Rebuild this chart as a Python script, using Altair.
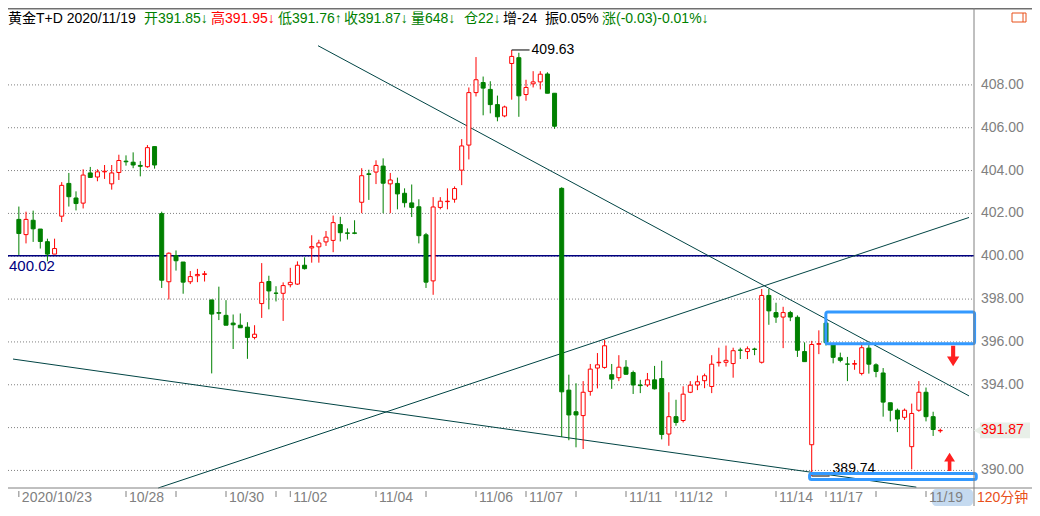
import altair as alt
import pandas as pd

# ---------------- data ----------------
opens = [
    401.72, 401.01, 401.68, 401.27, 400.68, 400.10, 401.87, 403.40, 402.72, 402.48,
    403.89, 403.70, 403.94, 403.38, 403.91, 404.44, 404.39, 404.24, 404.18, 405.12,
    401.99, 398.81, 400.03, 399.73, 398.81, 399.09, 399.15, 397.96, 397.37, 397.24,
    396.88, 396.78, 396.69, 396.21, 397.79, 398.82, 398.28, 398.27, 398.67, 398.70,
    399.58, 400.39, 400.44, 400.67, 400.74, 401.48, 401.09, 401.09, 402.52, 403.85,
    403.93, 404.21, 403.38, 403.40, 402.94, 402.49, 402.31, 401.00, 398.85, 402.28,
    402.55, 402.66, 404.02, 405.19, 407.64, 408.11, 407.79, 407.08, 406.55, 409.00,
    409.27, 407.55, 408.05, 408.14, 408.51, 407.61, 403.17, 393.75, 392.74, 392.56,
    393.69, 394.78, 394.81, 394.47, 394.33, 394.82, 394.57, 393.99, 393.99, 394.23,
    394.29, 391.70, 392.51, 392.33, 393.65, 393.99, 394.19, 393.92, 395.03, 395.05,
    394.99, 395.62, 395.55, 395.67, 395.05, 398.17, 397.37, 397.16, 397.37, 397.15,
    395.55, 391.20, 395.89, 396.88, 395.88, 395.26, 394.97, 394.96, 394.53, 395.71,
    394.93, 394.55, 393.16, 392.81, 392.48, 391.11, 392.81, 393.65, 392.51, 391.85]
highs = [
    402.32, 402.08, 402.13, 401.27, 400.82, 400.82, 403.46, 403.89, 403.03, 404.06,
    404.17, 404.06, 404.26, 404.26, 404.74, 404.71, 404.85, 404.44, 405.19, 405.12,
    402.08, 400.18, 400.27, 399.73, 399.31, 399.41, 399.31, 397.96, 398.58, 397.95,
    397.28, 397.33, 396.92, 396.78, 399.68, 399.09, 398.60, 398.78, 399.46, 399.76,
    399.95, 400.98, 400.77, 401.18, 401.90, 401.84, 401.30, 401.68, 404.11, 404.04,
    404.48, 404.57, 403.89, 403.67, 403.17, 403.35, 402.66, 401.09, 402.76, 402.76,
    403.17, 403.26, 405.47, 407.88, 409.30, 408.39, 408.17, 407.50, 407.03, 409.63,
    409.50, 408.24, 408.64, 408.64, 408.59, 407.61, 403.22, 394.47, 394.07, 394.17,
    394.97, 395.48, 396.09, 394.97, 395.38, 395.15, 394.66, 394.23, 394.55, 394.88,
    395.12, 393.65, 393.30, 393.93, 394.17, 394.43, 394.52, 395.38, 395.73, 395.83,
    395.73, 395.73, 395.79, 395.73, 398.47, 398.47, 397.83, 397.64, 397.45, 397.24,
    395.98, 396.05, 396.54, 397.06, 395.88, 395.50, 395.30, 395.15, 395.98, 395.91,
    395.00, 394.78, 393.16, 392.89, 392.89, 393.12, 394.17, 393.87, 392.74, 391.95]
lows = [
    400.06, 400.60, 400.67, 400.36, 399.76, 400.10, 401.60, 402.32, 402.14, 402.23,
    403.68, 403.50, 403.61, 403.11, 403.56, 404.23, 404.11, 403.73, 404.13, 404.09,
    398.52, 397.98, 399.33, 398.25, 398.70, 398.79, 398.82, 394.53, 397.02, 396.78,
    395.67, 396.66, 395.21, 396.12, 397.12, 397.52, 397.89, 396.98, 398.55, 398.66,
    399.38, 399.70, 399.70, 400.48, 400.19, 400.69, 400.78, 401.03, 402.01, 402.63,
    403.37, 402.01, 402.01, 402.19, 402.28, 401.83, 400.60, 398.52, 398.20, 402.19,
    402.19, 402.50, 403.32, 404.52, 407.46, 406.58, 406.67, 406.30, 406.49, 407.31,
    406.51, 407.26, 407.88, 407.79, 407.61, 405.95, 391.56, 391.41, 391.08, 391.00,
    393.49, 393.83, 394.75, 393.81, 394.17, 394.47, 393.57, 393.61, 393.90, 393.78,
    391.45, 391.15, 392.09, 392.24, 393.61, 393.75, 393.84, 393.61, 394.85, 394.85,
    394.33, 395.20, 395.20, 395.38, 394.99, 396.80, 396.89, 395.71, 396.97, 395.30,
    395.08, 389.74, 395.43, 395.83, 395.00, 395.05, 394.17, 394.70, 394.44, 394.52,
    394.35, 392.51, 392.29, 391.79, 392.36, 390.05, 392.74, 392.29, 391.61, 391.76]
closes = [
    401.06, 401.72, 401.28, 400.69, 400.10, 400.36, 403.31, 402.78, 402.46, 403.79,
    403.68, 403.94, 403.97, 403.89, 404.47, 404.41, 404.26, 404.20, 405.07, 404.26,
    398.88, 400.14, 399.79, 398.79, 399.05, 399.15, 399.18, 397.30, 397.34, 396.78,
    396.80, 396.66, 396.21, 396.36, 398.78, 398.38, 398.27, 398.63, 398.78, 399.58,
    399.42, 400.45, 400.62, 400.89, 401.57, 401.10, 401.07, 401.07, 403.76, 403.82,
    404.24, 403.41, 403.56, 402.91, 402.50, 402.28, 400.96, 398.79, 402.30, 402.57,
    402.57, 403.16, 405.15, 407.64, 408.24, 407.85, 407.08, 406.51, 406.97, 409.33,
    407.49, 407.88, 408.14, 408.50, 407.61, 406.07, 393.67, 392.59, 392.59, 393.65,
    394.73, 394.93, 395.82, 394.26, 394.82, 394.49, 393.99, 393.96, 394.23, 393.81,
    391.68, 392.51, 392.24, 393.56, 393.98, 394.14, 394.42, 394.96, 395.05, 395.14,
    395.59, 395.61, 395.68, 395.65, 398.17, 397.45, 397.16, 397.37, 397.16, 395.61,
    395.08, 395.88, 395.92, 395.97, 395.28, 395.14, 394.96, 394.99, 395.73, 394.96,
    394.62, 393.19, 392.81, 392.40, 392.81, 392.66, 393.65, 392.51, 391.91, 391.87]

tick_pos = [1, 16, 23, 30, 37, 39, 51, 58, 65, 72, 79, 86, 93, 100, 107, 114, 121, 128]
tick_text = ["2020/10/23", "10/28", "", "10/30", "", "11/02", "11/04", "", "11/06",
             "11/07", "", "11/11", "11/12", "", "11/14", "11/17", "", "11/19"]

grid_levels = [390, 392, 394, 396, 398, 400, 402, 404, 406, 408]
axis_levels = [390, 394, 396, 398, 400, 402, 404, 406, 408]
last_price = 391.87
ref_price = 400.02
peak_i, peak_v = 70, 409.63
trough_i, trough_v = 112, 389.74

trend_id = ["a", "a", "b", "b", "c", "c"]
trend_i = [42.88, 134.02, 20.51, 134.02, 0.18, 126.65]
trend_v = [409.83, 393.48, 389.18, 401.81, 395.20, 389.22]

box_i1 = [113.98, 111.7]
box_i2 = [134.8, 135.04]
box_v1 = [395.92, 389.58]
box_v2 = [397.40, 389.855]

arrow_down = (131.8, 395.34)
arrow_up = (131.3, 390.40)

header_texts = ["黄金T+D 2020/11/19", "开391.85↓", "高391.95↓", "低391.76↑", "收391.87↓",
                "量648↓", "仓22↓", "增-24", "振0.05%", "涨(-0.03)-0.01%↓"]

# ---------------- styling / layout ----------------
W, H = 966, 480
PR, PB = 58, 18
RED, GREEN = "#FF0000", "#008000"
GRAY = "#808080"
FONT = "Liberation Sans, Noto Sans CJK SC, sans-serif"
header_colors = ["#000000", GREEN, RED, GREEN, GREEN, GREEN, GREEN, "#000000", "#000000", GREEN]
header_x = [0, 136, 203, 270, 336, 403, 456, 495, 537, 594]

xs = alt.Scale(domain=[0.18, 134.02], nice=False, zero=False)
ys = alt.Scale(domain=[389.18, 411.59], nice=False, zero=False)


def X(f):
    return alt.X(f, type="quantitative", scale=xs, axis=None)


def Y(f):
    return alt.Y(f, type="quantitative", scale=ys, axis=None)


one = pd.DataFrame({"a": [0]})

df = pd.DataFrame({"i": list(range(1, len(opens) + 1)), "o": opens, "h": highs,
                   "l": lows, "c": closes})
df["dir"] = ["up" if c >= o else "down" for o, c in zip(opens, closes)]

dir_stroke = alt.Stroke("dir:N", scale=alt.Scale(domain=["up", "down"], range=[RED, GREEN]), legend=None)
dir_fill = alt.Fill("dir:N", scale=alt.Scale(domain=["up", "down"], range=["#FFFFFF", GREEN]), legend=None)

grid = alt.Chart(pd.DataFrame({"v": grid_levels})).mark_rule(
    color=GRAY, strokeDash=[1, 2], strokeWidth=1).encode(
    y=Y("v"), x=alt.value(0), x2=alt.value(W))

ylab = alt.Chart(pd.DataFrame({"v": axis_levels, "t": [f"{v:.2f}" for v in axis_levels]})).mark_text(
    align="left", baseline="middle", fontSize=14, font=FONT, color=GRAY).encode(
    y=Y("v"), x=alt.value(W + 7), text="t:N")

refline = alt.Chart(pd.DataFrame({"v": [ref_price], "t": [f"{ref_price:.2f}"]}))
ref_rule = refline.mark_rule(color="#000080", strokeWidth=1.6).encode(
    y=Y("v"), x=alt.value(0), x2=alt.value(W))
ref_text = refline.mark_text(align="left", baseline="top", dx=1, dy=3, color="#000080",
                             fontSize=15, font=FONT).encode(y=Y("v"), x=alt.value(0), text="t:N")

trend = alt.Chart(pd.DataFrame({"id": trend_id, "i": trend_i, "v": trend_v})).mark_line(
    color="#004444", strokeWidth=1).encode(x=X("i"), y=Y("v"), detail="id:N")

wicks = alt.Chart(df).mark_rule(strokeWidth=1).encode(x=X("i"), y=Y("l"), y2="h:Q", stroke=dir_stroke)
bodies = alt.Chart(df).mark_bar(size=4, strokeWidth=1).encode(
    x=X("i"), y=Y("o"), y2="c:Q", fill=dir_fill, stroke=dir_stroke)

ann = pd.DataFrame({"i": [peak_i, trough_i], "i2": [peak_i + 2.5, trough_i + 2.5],
                    "v": [peak_v, trough_v], "t": [f"{peak_v:.2f}", f"{trough_v:.2f}"]})
ann_lines = alt.Chart(ann).mark_rule(color="#000000", strokeWidth=1).encode(
    x=X("i"), x2="i2:Q", y=Y("v"))
peak_text = alt.Chart(ann.iloc[[0]]).mark_text(align="left", baseline="middle", dx=2, fontSize=14,
                                               font=FONT, color="#000000").encode(
    x=X("i2"), y=Y("v"), text="t:N")
trough_text = alt.Chart(ann.iloc[[1]]).mark_text(align="left", baseline="middle", dx=3, dy=-7,
                                                 fontSize=14, font=FONT, color="#000000").encode(
    x=X("i2"), y=Y("v"), text="t:N")

boxes = alt.Chart(pd.DataFrame({"i1": box_i1, "i2": box_i2, "v1": box_v1, "v2": box_v2})).mark_rect(
    fillOpacity=0, stroke="#3399FF", strokeWidth=3, cornerRadius=2).encode(
    x=X("i1"), x2="i2:Q", y=Y("v1"), y2="v2:Q")

down_path = "M-0.2,-1L0.2,-1L0.2,0.05L0.6,0.05L0,1L-0.6,0.05L-0.2,0.05Z"
up_path = "M-0.2,1L0.2,1L0.2,-0.05L0.6,-0.05L0,-1L-0.6,-0.05L-0.2,-0.05Z"
arr_d = alt.Chart(pd.DataFrame({"i": [arrow_down[0]], "v": [arrow_down[1]]})).mark_point(
    shape=down_path, filled=True, color="#FF2020", opacity=1, size=420).encode(x=X("i"), y=Y("v"))
arr_u = alt.Chart(pd.DataFrame({"i": [arrow_up[0]], "v": [arrow_up[1]]})).mark_point(
    shape=up_path, filled=True, color="#FF2020", opacity=1, size=330).encode(x=X("i"), y=Y("v"))

# frame
top_line = alt.Chart(one).mark_rule(color="#707070", strokeWidth=1.5).encode(
    x=alt.value(0), x2=alt.value(W + PR), y=alt.value(0.75))
bottom_line = alt.Chart(one).mark_rule(color=GRAY, strokeWidth=1).encode(
    x=alt.value(0), x2=alt.value(W + PR), y=alt.value(H))
right_line = alt.Chart(one).mark_rule(color=GRAY, strokeWidth=1).encode(
    x=alt.value(W), y=alt.value(0), y2=alt.value(H + PB))

# x axis (dates)
hl = alt.Chart(one).mark_rect(fill="#C5DAF0", cornerRadius=4).encode(
    x=alt.value(924), x2=alt.value(W - 1), y=alt.value(H + 1), y2=alt.value(H + PB))
tdf = pd.DataFrame({"i": tick_pos, "t": tick_text})
xticks = alt.Chart(tdf).mark_rule(color=GRAY).encode(x=X("i"), y=alt.value(H + 3), y2=alt.value(H + 9))
xlabels = alt.Chart(tdf).mark_text(align="left", baseline="middle", dx=3, fontSize=14, font=FONT,
                                   color=GRAY).encode(x=X("i"), y=alt.value(H + 10), text="t:N")
period = alt.Chart(one).mark_text(align="left", baseline="middle", fontSize=14, font=FONT,
                                  color="#E8501A", text="120分钟").encode(
    x=alt.value(W + 3), y=alt.value(H + 10))

# last price label
lp = pd.DataFrame({"v": [last_price], "lo": [last_price - 0.37], "hi": [last_price + 0.37],
                   "t": [f"{last_price:.2f}"]})
lp_bg = alt.Chart(lp).mark_rect(fill="#E8EFE8").encode(
    x=alt.value(W + 6), x2=alt.value(W + 56), y=Y("lo"), y2="hi:Q")
lp_tri = alt.Chart(lp).mark_point(shape="triangle-left", filled=True, color="#E8EFE8",
                                  opacity=1, size=150).encode(x=alt.value(W + 5), y=Y("v"))
lp_text = alt.Chart(lp).mark_text(align="left", baseline="middle", fontSize=14, font=FONT,
                                  color=RED).encode(x=alt.value(W + 7), y=Y("v"), text="t:N")

# icon top-right
icon = alt.Chart(one).mark_rect(fillOpacity=0, stroke="#E8501A", strokeWidth=1).encode(
    x=alt.value(W + 38), x2=alt.value(W + 52), y=alt.value(5), y2=alt.value(14))
icon2 = alt.Chart(one).mark_rule(color="#E8501A", strokeWidth=1).encode(
    x=alt.value(W + 49), y=alt.value(5), y2=alt.value(14))

# header
header = []
for t, c, px in zip(header_texts, header_colors, header_x):
    header.append(alt.Chart(one).mark_text(align="left", baseline="middle", fontSize=14, font=FONT,
                                           color=c, text=t).encode(x=alt.value(px), y=alt.value(11)))

chart = alt.layer(
    grid, ref_rule, trend, wicks, bodies, ref_text, ann_lines, peak_text, trough_text,
    boxes, arr_d, arr_u, top_line, bottom_line, right_line, hl, xticks, xlabels, period,
    ylab, lp_bg, lp_tri, lp_text, icon, icon2, *header
).properties(
    width=W, height=H,
    padding={"left": 0, "top": 0, "right": PR, "bottom": PB},
    autosize=alt.AutoSizeParams(type="none"),
    background="#FFFFFF",
).configure_view(stroke=None)

chart.save("out.html", embed_options={"renderer": "svg", "actions": False})
